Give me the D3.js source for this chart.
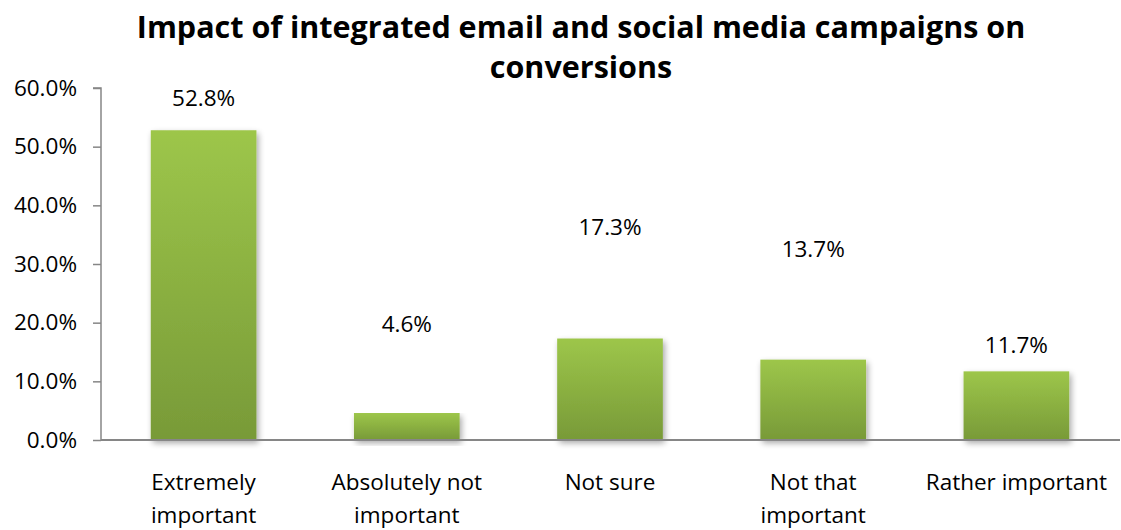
<!DOCTYPE html>
<html>
<head>
<meta charset="utf-8">
<script src="https://cdn.jsdelivr.net/npm/d3@7"></script>
<style>
  html, body { margin: 0; padding: 0; background: #fff; }
  svg { display: block; font-family: "Open Sans", Lato, sans-serif; }
</style>
</head>
<body>
<svg id="chart" width="1121" height="530"></svg>
<script>
// Survey answers and their shares (percent)
const categories = ["Extremely important", "Absolutely not important", "Not sure", "Not that important", "Rather important"];
const categoryLines = [["Extremely", "important"], ["Absolutely not", "important"], ["Not sure"], ["Not that", "important"], ["Rather important"]];
const values = [52.8, 4.6, 17.3, 13.7, 11.7];
const yTicks = [0, 10, 20, 30, 40, 50, 60];
const titleLines = ["Impact of integrated email and social media campaigns on", "conversions"];

// Vertical lift of each value label above its bar top, in pixels
const labelLift = [32, 89, 112, 111, 26];

const svg = d3.select("#chart");
const plotLeft = 101, plotRight = 1120, plotTop = 88, plotBottom = 440;
const fontFamily = "'Open Sans', Lato, sans-serif";
const labelSize = 22.5;

const x = d3.scaleBand()
  .domain(categories)
  .range([102, 1118])
  .paddingInner(0.48)
  .paddingOuter(0.24);

const y = d3.scaleLinear().domain([0, 60]).range([plotBottom, plotTop]);

// Bar fill: lighter green at the top fading to olive at the base
const defs = svg.append("defs");
const grad = defs.append("linearGradient")
  .attr("id", "barFill").attr("x1", 0).attr("y1", 0).attr("x2", 0).attr("y2", 1);
grad.append("stop").attr("offset", "0%").attr("stop-color", "#9dc64a");
grad.append("stop").attr("offset", "100%").attr("stop-color", "#789a38");

const shadow = defs.append("filter").attr("id", "barShadow")
  .attr("x", "-10%").attr("y", "-10%").attr("width", "130%").attr("height", "130%");
shadow.append("feGaussianBlur").attr("in", "SourceAlpha").attr("stdDeviation", 3).attr("result", "b");
shadow.append("feOffset").attr("in", "b").attr("dx", 2).attr("dy", 3).attr("result", "o");
shadow.append("feComponentTransfer").attr("in", "o").attr("result", "s")
  .append("feFuncA").attr("type", "linear").attr("slope", 0.35);
const merge = shadow.append("feMerge");
merge.append("feMergeNode").attr("in", "s");
merge.append("feMergeNode").attr("in", "SourceGraphic");

// Title
svg.append("g").selectAll("text")
  .data(titleLines)
  .join("text")
  .attr("x", 581)
  .attr("y", (d, i) => 38 + i * 40)
  .attr("text-anchor", "middle")
  .attr("font-weight", "bold")
  .attr("font-size", 30.5)
  .attr("fill", "#000")
  .text(d => d);

// Bars
svg.append("g").selectAll("rect")
  .data(values)
  .join("rect")
  .attr("x", (d, i) => x(categories[i]))
  .attr("width", x.bandwidth())
  .attr("y", d => y(d))
  .attr("height", d => y(0) - y(d))
  .attr("fill", "url(#barFill)")
  .attr("filter", "url(#barShadow)");

// Y axis
const yAxis = d3.axisLeft(y)
  .tickValues(yTicks)
  .tickFormat(d => d.toFixed(1) + "%")
  .tickSize(8)
  .tickPadding(16);
const gy = svg.append("g").attr("transform", `translate(${plotLeft},0)`).call(yAxis);
gy.select(".domain").attr("stroke", "#868686").attr("stroke-width", 1.5).attr("d", `M-8,${plotTop}H0V${plotBottom}`);
gy.selectAll(".tick line").attr("stroke", "#868686").attr("stroke-width", 1.5);
gy.selectAll(".tick text").attr("font-size", labelSize).attr("fill", "#000").attr("font-family", fontFamily);

// X baseline
svg.append("line")
  .attr("x1", plotLeft).attr("x2", plotRight)
  .attr("y1", y(0)).attr("y2", y(0))
  .attr("stroke", "#868686").attr("stroke-width", 2);

// Category labels
const cat = svg.append("g").selectAll("text")
  .data(categories)
  .join("text")
  .attr("x", d => x(d) + x.bandwidth() / 2)
  .attr("text-anchor", "middle")
  .attr("font-size", labelSize)
  .attr("fill", "#000");
cat.selectAll("tspan")
  .data((d, i) => categoryLines[i])
  .join("tspan")
  .attr("x", function () { return this.parentNode.getAttribute("x"); })
  .attr("y", (d, j) => 490 + j * 33)
  .text(d => d);

// Value labels
svg.append("g").selectAll("text")
  .data(values)
  .join("text")
  .attr("x", (d, i) => x(categories[i]) + x.bandwidth() / 2)
  .attr("y", (d, i) => y(d) - labelLift[i] + 8)
  .attr("text-anchor", "middle")
  .attr("font-size", labelSize)
  .attr("fill", "#000")
  .text(d => d.toFixed(1) + "%");
</script>
</body>
</html>
